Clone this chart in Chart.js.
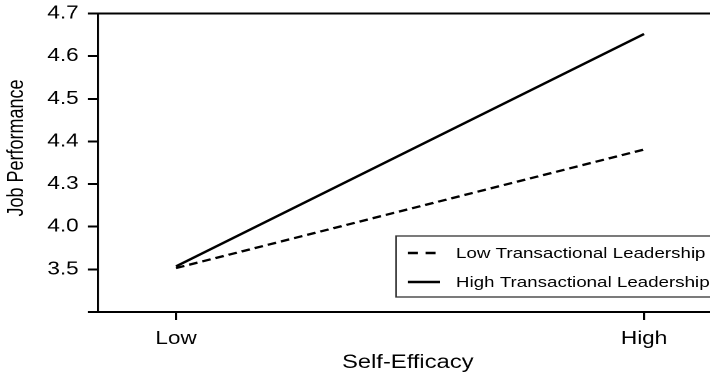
<!DOCTYPE html>
<html>
<head>
<meta charset="utf-8">
<script src="https://cdn.jsdelivr.net/npm/chart.js@4/dist/chart.umd.min.js"></script>
<style>
  html, body { margin: 0; padding: 0; background: #fff; overflow: hidden; width: 710px; height: 375px; }
  #wrap { width: 580px; height: 375px; transform: scaleX(1.25); transform-origin: 0 0; }
</style>
</head>
<body>
<div id="wrap"><canvas id="c" width="580" height="375"></canvas></div>
<script>
// Interaction plot: job performance by self-efficacy, split by transactional leadership
const categories = ['Low', 'High'];
const yTickLabels = ['3.5', '4.0', '4.3', '4.4', '4.5', '4.6', '4.7'];
const lowTransactional = [3.515, 4.381];
const highTransactional = [3.535, 4.652];
const seriesNames = ['Low Transactional Leadership', 'High Transactional Leadership'];

const FONT = '"Liberation Sans", Arial, Helvetica, sans-serif';
const INK = '#000';
const tickValues = yTickLabels.map(Number);

// The axis labels are not evenly spaced in value, so map a value onto
// the evenly spaced tick positions by interpolating between labels.
function toPos(v) {
  for (let i = 0; i < tickValues.length - 1; i++) {
    const a = tickValues[i], b = tickValues[i + 1];
    if (v <= b || i === tickValues.length - 2) {
      return i + (v - a) / (b - a);
    }
  }
  return 0;
}

const toPoints = arr => arr.map((v, i) => ({ x: i, y: toPos(v) }));

// Frame top, rotated y title and boxed legend
const decorations = {
  id: 'decorations',
  afterDraw(chart) {
    const ctx = chart.ctx;
    const area = chart.chartArea;
    ctx.save();
    ctx.strokeStyle = INK;
    ctx.lineWidth = 2;
    ctx.beginPath();
    ctx.moveTo(area.left, area.top);
    ctx.lineTo(area.right, area.top);
    ctx.stroke();

    // y-axis title
    ctx.fillStyle = INK;
    ctx.font = '18px ' + FONT;
    ctx.textAlign = 'center';
    ctx.textBaseline = 'middle';
    ctx.translate(13.5, 148);
    ctx.rotate(-Math.PI / 2);
    ctx.fillText('Job Performance', 0, 0);
    ctx.restore();

    // legend
    ctx.save();
    const bx = 316.8, by = 236, bh = 61;
    ctx.strokeStyle = '#333';
    ctx.lineWidth = 1.3;
    ctx.strokeRect(bx, by, 300, bh);
    const rows = [253, 282];
    chart.data.datasets.forEach((ds, i) => {
      ctx.strokeStyle = INK;
      ctx.lineWidth = 2.4;
      ctx.setLineDash(ds.borderDash && ds.borderDash.length ? [8, 6] : []);
      ctx.beginPath();
      ctx.moveTo(326.4, rows[i]);
      ctx.lineTo(352, rows[i]);
      ctx.stroke();
      ctx.setLineDash([]);
      ctx.fillStyle = INK;
      ctx.font = '15px ' + FONT;
      ctx.textAlign = 'left';
      ctx.textBaseline = 'middle';
      ctx.fillText(ds.label, 364.8, rows[i] + 1);
    });
    ctx.restore();
  }
};

new Chart(document.getElementById('c'), {
  type: 'line',
  data: {
    datasets: [
      {
        label: seriesNames[0],
        data: toPoints(lowTransactional),
        borderColor: INK,
        borderWidth: 2.3,
        borderDash: [7, 4],
        pointRadius: 0,
        fill: false
      },
      {
        label: seriesNames[1],
        data: toPoints(highTransactional),
        borderColor: INK,
        borderWidth: 2.3,
        pointRadius: 0,
        fill: false
      }
    ]
  },
  options: {
    responsive: false,
    animation: false,
    devicePixelRatio: 2,
    layout: { padding: { top: 13.5, right: 6, bottom: 0, left: 0 } },
    plugins: { legend: { display: false }, tooltip: { enabled: false } },
    scales: {
      x: {
        type: 'linear',
        min: -0.1667,
        max: 1.157,
        afterBuildTicks: s => { s.ticks = categories.map((_, i) => ({ value: i })); },
        afterFit: s => { s.height = 63; },
        ticks: {
          callback: v => categories[v],
          color: INK,
          font: { family: FONT, size: 18 },
          padding: 8,
          maxRotation: 0
        },
        grid: { drawOnChartArea: false, drawTicks: true, tickLength: 8, color: INK, lineWidth: 1.6 },
        border: { display: true, color: INK, width: 2 },
        title: {
          display: true,
          text: 'Self-Efficacy',
          color: INK,
          font: { family: FONT, size: 19 },
          padding: { top: 0, bottom: 1 }
        }
      },
      y: {
        type: 'linear',
        min: -1,
        max: 6,
        afterBuildTicks: s => { s.ticks = [-1, 0, 1, 2, 3, 4, 5, 6].map(v => ({ value: v })); },
        afterFit: s => { s.width = 78.4; s.paddingTop = 0; },
        ticks: {
          callback: v => (v >= 0 && v < yTickLabels.length ? yTickLabels[v] : ''),
          color: INK,
          font: { family: FONT, size: 18, lineHeight: 1 },
          padding: 7.5
        },
        grid: { drawOnChartArea: false, drawTicks: true, tickLength: 8, color: INK, lineWidth: 2 },
        border: { display: true, color: INK, width: 1.6 }
      }
    }
  },
  plugins: [decorations]
});
</script>
</body>
</html>
